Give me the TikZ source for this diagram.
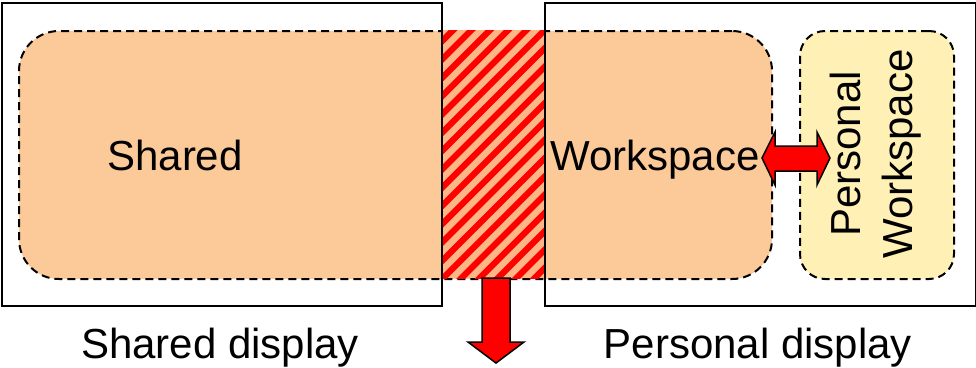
\documentclass[tikz,border=0pt]{standalone}
\usepackage{fontspec}
\setmainfont{Liberation Sans}
\usetikzlibrary{positioning}

\definecolor{peach}{RGB}{252,201,152}
\definecolor{paleyellow}{RGB}{255,241,181}
\definecolor{salmon}{RGB}{254,182,134}

\begin{document}
\begin{tikzpicture}[x=1pt,y=-1pt,
    every node/.style={inner sep=0pt,font=\fontsize{42}{52}\selectfont},
    display/.style={draw,line width=2pt,anchor=north west},
    workspace/.style={draw,line width=2pt,dash pattern=on 8pt off 5pt,anchor=north west},
    blockarrow/.style={draw,fill=red,line width=1.5pt,line join=miter}]
  \useasboundingbox (0,0) rectangle (976,367);

  \node[workspace,fill=peach,rounded corners=40pt,minimum width=753pt,minimum height=248pt] (shared) at (18,30) {};
  \node[workspace,fill=paleyellow,rounded corners=25pt,minimum width=154pt,minimum height=248pt] (personal) at (799,30) {};
  \node[anchor=north west,fill=salmon,minimum width=103pt,minimum height=248pt] (overlap) at (441,30) {};
  \begin{scope}
    \clip (overlap.south west) rectangle (overlap.north east);
    \foreach \i in {0,...,21}
      \draw[red,line width=6.2pt] (175+18.3*\i,290) -- ++(270,-270);
  \end{scope}

  \node[display,minimum width=440pt,minimum height=303pt] (shdisp) at (1,2) {};
  \node[display,minimum width=431pt,minimum height=303pt] (psdisp) at (544,2) {};

  \node[anchor=base] (sharedlbl) at (175,170) {Shared};
  \node[anchor=base] (wslbl) at (655,170) {Workspace};
  \node[rotate=90,align=center] (perslbl) at (876,154) {Personal\\Workspace};
  \node[anchor=base] (shdisplbl) at (220,358) {Shared display};
  \node[anchor=base] (psdisplbl) at (758,358) {Personal display};

  \draw[blockarrow] (762,158) -- (775,132) -- (775,146) -- (817,146) -- (817,132) -- (830,158)
    -- (817,185) -- (817,171) -- (775,171) -- (775,185) -- cycle;
  \draw[blockarrow] (482,278) -- (482,342) -- (468,342) -- (496,363)
    -- (524,342) -- (510,342) -- (510,278) -- cycle;
\end{tikzpicture}
\end{document}
